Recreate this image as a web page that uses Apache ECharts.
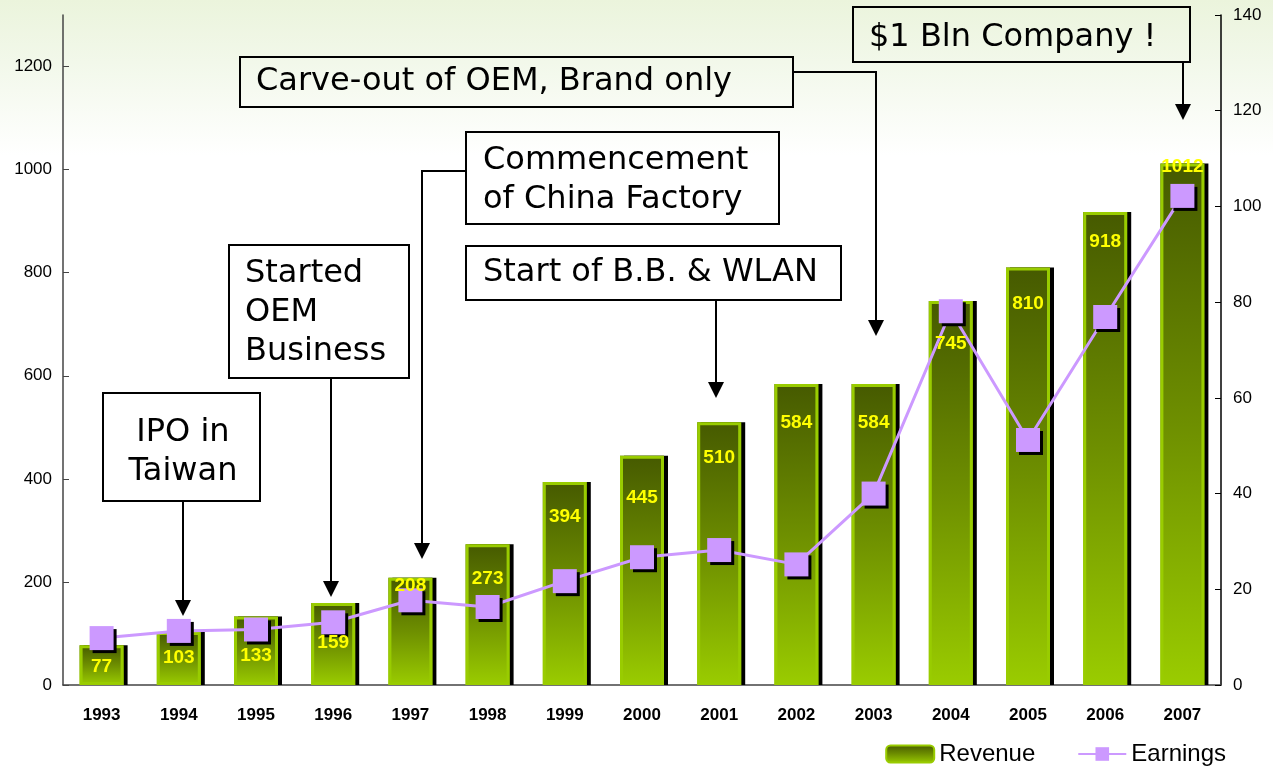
<!DOCTYPE html>
<html>
<head>
<meta charset="utf-8">
<script src="https://cdn.jsdelivr.net/npm/echarts@6/dist/echarts.min.js"></script>
<style>
  html, body { margin: 0; padding: 0; background: #fff; }
  #chart { width: 1273px; height: 777px; }
</style>
</head>
<body>
<div id="chart"></div>
<script>
// data
const years = ['1993', '1994', '1995', '1996', '1997', '1998', '1999', '2000',
  '2001', '2002', '2003', '2004', '2005', '2006', '2007'];
const revenue = [77, 103, 133, 159, 208, 273, 394, 445, 510, 584, 584, 745, 810, 918, 1012];
const earnings = [9.8, 11.3, 11.6, 13.1, 17.7, 16.3, 21.7, 26.7, 28.2, 25.2, 40.0, 78.1, 51.2, 76.9, 102.2];
const revenueTicks = [0, 200, 400, 600, 800, 1000, 1200];
const earningsTicks = [0, 20, 40, 60, 80, 100, 120, 140];

// how far each value label sits below the top of its bar (px)
const labelDrop = [22, 26, 40, 40, 8, 35, 35, 43, 36, 39, 39, 43, 37, 30, 4];

const FONT = '32px "DejaVu Sans", Verdana, sans-serif';
const ARIAL = 'Arial, "Liberation Sans"';

function box(x, y, w, h) {
  return { type: 'rect', shape: { x: x, y: y, width: w, height: h },
    style: { fill: 'none', stroke: '#000', lineWidth: 2 } };
}
function note(x, y, text, align) {
  return { type: 'text', x: x, y: y,
    style: { text: text, font: FONT, fill: '#000', align: align || 'left',
      verticalAlign: 'top', lineHeight: 39 } };
}
function arrow(points) {
  const tip = points[points.length - 1];
  const line = points.slice();
  line[line.length - 1] = [tip[0], tip[1] - 12];
  return [
    { type: 'polyline', shape: { points: line }, style: { stroke: '#000', lineWidth: 2, fill: null } },
    { type: 'polygon', shape: { points: [[tip[0] - 8, tip[1] - 16], [tip[0] + 8, tip[1] - 16], [tip[0], tip[1]]] },
      style: { fill: '#000' } }
  ];
}

const notes = [].concat(
  [box(240, 57, 553, 50), note(256, 62, 'Carve-out of OEM, Brand only')],
  arrow([[793, 72], [876, 72], [876, 336]]),
  [box(853, 7, 337, 55), note(869, 18, '$1 Bln Company !')],
  arrow([[1183, 62], [1183, 120]]),
  [box(466, 132, 313, 92), note(483, 141, 'Commencement\nof China Factory')],
  arrow([[466, 171], [422, 171], [422, 559]]),
  [box(466, 246, 375, 54), note(483, 253, 'Start of B.B. & WLAN')],
  arrow([[716, 300], [716, 398]]),
  [box(229, 245, 180, 133), note(245, 254, 'Started\nOEM\nBusiness')],
  arrow([[331, 378], [331, 597]]),
  [box(103, 393, 157, 108), note(183, 413, 'IPO in\nTaiwan', 'center')],
  arrow([[183, 501], [183, 616]])
);

const barGradient = new echarts.graphic.LinearGradient(0, 0, 0, 1, [
  { offset: 0, color: '#465a00' },
  { offset: 0.5, color: '#6e8f00' },
  { offset: 1, color: '#9acc00' }
]);

var dom = document.getElementById('chart');
var myChart = echarts.init(dom, null, { renderer: 'canvas' });

var option = {
  animation: false,
  backgroundColor: new echarts.graphic.LinearGradient(0, 0, 0, 1, [
    { offset: 0, color: '#ebf4dc' },
    { offset: 0.08, color: '#f2f8ea' },
    { offset: 0.2, color: '#ffffff' },
    { offset: 1, color: '#ffffff' }
  ]),
  grid: { left: 63, right: 52, top: 15, bottom: 92 },
  legend: {
    data: [
      { name: 'Revenue', itemStyle: { shadowColor: 'transparent', borderColor: '#99cc00', borderWidth: 2 } },
      { name: 'Earnings' }
    ],
    right: 42,
    bottom: 6,
    itemWidth: 48,
    itemHeight: 17,
    itemGap: 42,
    textStyle: { fontFamily: ARIAL, fontSize: 24, color: '#000' }
  },
  xAxis: {
    type: 'category',
    data: years,
    axisLine: { lineStyle: { color: '#444', width: 1.5 } },
    axisTick: { inside: true, length: 6, lineStyle: { color: '#444' } },
    axisLabel: { fontFamily: ARIAL, fontWeight: 'bold', fontSize: 17, color: '#000', margin: 22 }
  },
  yAxis: [
    {
      type: 'value', min: 0, max: 1300, interval: 200,
      axisLine: { show: true, lineStyle: { color: '#444', width: 1.5 } },
      axisTick: { show: true, inside: true, length: 6, customValues: revenueTicks, lineStyle: { color: '#444' } },
      axisLabel: { customValues: revenueTicks, formatter: function (v) { return String(v); },
        fontFamily: ARIAL, fontSize: 17, color: '#000', margin: 11 },
      splitLine: { show: false }
    },
    {
      type: 'value', min: 0, max: 140, interval: 20, position: 'right',
      axisLine: { show: true, lineStyle: { color: '#000', width: 1.5 } },
      axisTick: { show: true, inside: true, length: 6, customValues: earningsTicks, lineStyle: { color: '#000' } },
      axisLabel: { customValues: earningsTicks, fontFamily: ARIAL, fontSize: 17, color: '#000', margin: 12 },
      splitLine: { show: false }
    }
  ],
  series: [
    {
      name: 'Revenue',
      type: 'bar',
      barWidth: 44,
      barGap: '-100%',
      data: revenue,
      itemStyle: {
        color: barGradient,
        shadowColor: '#000',
        shadowBlur: 0,
        shadowOffsetX: 4,
        shadowOffsetY: 0
      },
      z: 2
    },
    {
      // light green frame round each bar, no shadow
      name: 'RevenueFrame',
      type: 'bar',
      barWidth: 44,
      barGap: '-100%',
      silent: true,
      data: revenue,
      itemStyle: { color: 'transparent', borderColor: '#99cc00', borderWidth: 3 },
      z: 2
    },
    {
      name: 'Earnings',
      type: 'line',
      yAxisIndex: 1,
      data: earnings,
      symbol: 'rect',
      symbolSize: 24,
      lineStyle: { color: '#cc99ff', width: 3 },
      itemStyle: {
        color: '#cc99ff',
        shadowColor: '#000',
        shadowBlur: 0,
        shadowOffsetX: 3,
        shadowOffsetY: 3
      },
      z: 3
    },
    {
      // value labels drawn above the line
      name: 'RevenueLabels',
      type: 'bar',
      barWidth: 44,
      barGap: '-100%',
      silent: true,
      data: revenue.map(function (v, i) {
        return { value: v, label: { offset: [0, labelDrop[i] - 10] } };
      }),
      itemStyle: { color: 'transparent' },
      label: {
        show: true,
        position: 'insideTop',
        distance: 0,
        color: '#ffff00',
        fontFamily: ARIAL,
        fontWeight: 'bold',
        fontSize: 19
      },
      z: 5
    }
  ],
  graphic: notes
};

if (option && typeof option === 'object') {
  myChart.setOption(option);
}
</script>
</body>
</html>
